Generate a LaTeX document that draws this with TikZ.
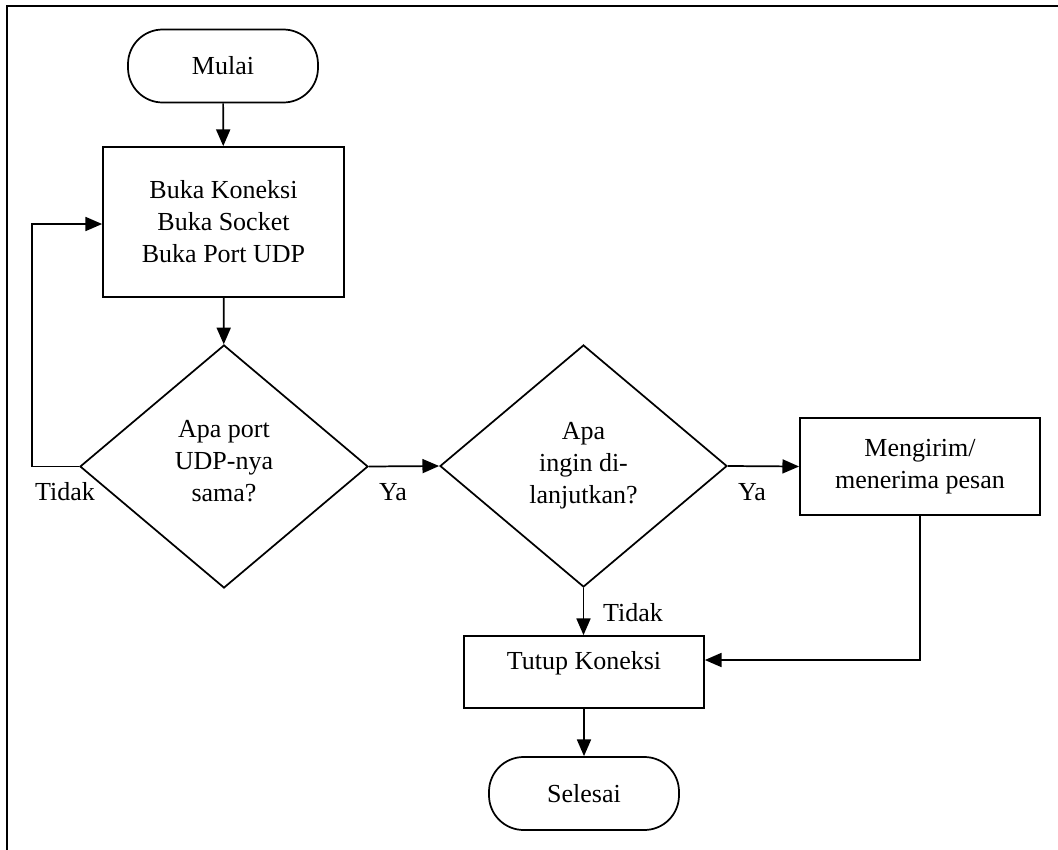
\documentclass[tikz,border=0pt]{standalone}
\usepackage{fontspec}
\setmainfont{Liberation Serif}
\usetikzlibrary{shapes.geometric,arrows.meta}
\begin{document}
\begin{tikzpicture}[x=0.75pt,y=-0.75pt,
  every node/.style={font=\fontsize{19.5}{24}\selectfont},
  term/.style={draw,line width=1.3pt,rectangle,rounded corners=26pt,minimum width=142.5pt,minimum height=54.75pt,inner sep=0pt},
  procbox/.style={draw,line width=1.3pt,rectangle,align=center,inner sep=0pt},
  decis/.style={draw,line width=1.3pt,diamond,align=center,inner sep=0pt},
  lbl/.style={inner sep=0pt},
  arr/.style={line width=1.3pt,-{Triangle[length=12.5pt,width=10.5pt]}},
  con/.style={line width=1.3pt}]
\useasboundingbox (0,0) rectangle (1058,850);
\draw[line width=1.6pt] (7,852) -- (7,6) -- (1060,6);
\node[term] (mulai) at (223,66) {Mulai};
\node[procbox,minimum width=180.75pt,minimum height=112.5pt] (buka) at (223.5,222) {Buka Koneksi\\Buka Socket\\Buka Port UDP};
\node[decis,minimum width=216pt,minimum height=182.25pt,text depth=8pt] (d1) at (224,466.5) {Apa port\\UDP-nya\\sama?};
\node[decis,minimum width=215.25pt,minimum height=181.5pt] (d2) at (583.5,466) {Apa\\ingin di-\\lanjutkan?};
\node[procbox,minimum width=180pt,minimum height=72.75pt] (kirim) at (920,466.5) {Mengirim/\\menerima pesan};
\node[procbox,minimum width=180pt,minimum height=54pt,text depth=17pt] (tutup) at (584,672) {Tutup Koneksi};
\node[term] (selesai) at (584,793.5) {Selesai};
\node[lbl] (ltidak1) at (65,492) {Tidak};
\node[lbl] (lya1) at (393,492) {Ya};
\node[lbl] (lya2) at (752,492) {Ya};
\node[lbl] (ltidak2) at (633,613) {Tidak};
\coordinate (loop) at (32,224);
\coordinate (bend) at (920,660);
\draw[arr] (mulai) -- (buka);
\draw[arr] (buka) -- (d1);
\draw[arr] (d1.west) -| (loop) -- (loop -| buka.west);
\draw[arr] (d1.east) -- (d2.west);
\draw[arr] (d2.east) -- (kirim.west);
\draw[arr] (d2.south) -- (d2.south |- tutup.north);
\draw[arr] (kirim.south) -- (bend) -- (bend -| tutup.east);
\draw[arr] (tutup) -- (selesai);
\end{tikzpicture}
\end{document}
